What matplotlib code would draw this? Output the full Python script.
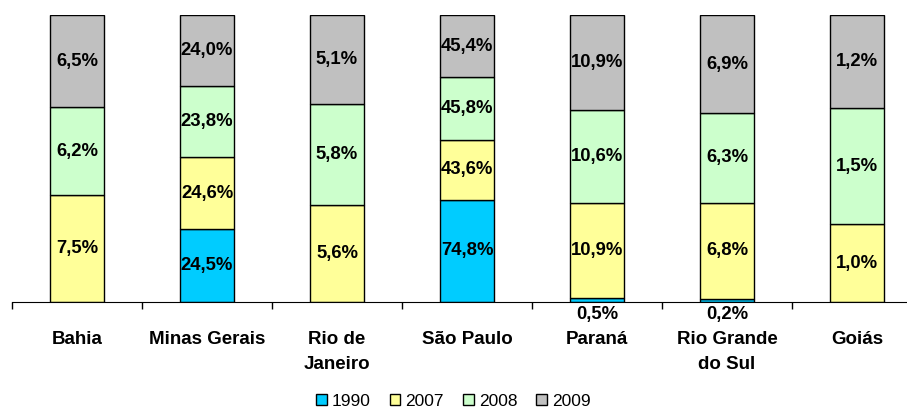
import numpy as np
import matplotlib.pyplot as plt
from matplotlib.transforms import blended_transform_factory

plt.rcParams['font.family'] = ['Liberation Sans', 'DejaVu Sans']

# share of each state by year (%), bars stacked to 100% per state
states = ['Bahia', 'Minas Gerais', 'Rio de\nJaneiro', 'São Paulo', 'Paraná', 'Rio Grande\ndo Sul', 'Goiás']
years = ['1990', '2007', '2008', '2009']
v1990 = [0.0, 24.5, 0.0, 74.8, 0.5, 0.2, 0.0]
v2007 = [7.5, 24.6, 5.6, 43.6, 10.9, 6.8, 1.0]
v2008 = [6.2, 23.8, 5.8, 45.8, 10.6, 6.3, 1.5]
v2009 = [6.5, 24.0, 5.1, 45.4, 10.9, 6.9, 1.2]
colors = ['#00CCFF', '#FFFF99', '#CCFFCC', '#C0C0C0']

vals = np.array([v1990, v2007, v2008, v2009])
frac = vals / vals.sum(axis=0)

fig = plt.figure(figsize=(9.07, 4.11), dpi=100)
ax = fig.add_axes([12 / 907, 109 / 411, 910 / 907, 287 / 411])

x = np.arange(len(states))
bottom = np.zeros(len(states))
for i, yr in enumerate(years):
    ax.bar(x, frac[i], 0.41, bottom=bottom, color=colors[i], edgecolor='black',
           linewidth=1, label=yr)
    for j in range(len(states)):
        v = vals[i, j]
        if v == 0:
            continue
        lab = f'{v:.1f}%'.replace('.', ',')
        if frac[i, j] < 0.03:
            # tiny segments: label sits just under the axis
            ax.text(x[j], -0.042, lab, ha='center', va='center', fontsize=13.3,
                    fontweight='bold')
        else:
            ax.text(x[j], bottom[j] + frac[i, j] / 2, lab, ha='center', va='center',
                    fontsize=13.3, fontweight='bold')
    bottom += frac[i]

ax.set_xlim(-0.5, len(states) - 0.5)
ax.set_ylim(0, 1)
for s in ['top', 'right', 'left']:
    ax.spines[s].set_visible(False)
ax.set_yticks([])
ax.set_xticks(np.arange(len(states) + 1) - 0.5)
ax.set_xticklabels([])
ax.tick_params(axis='x', direction='out', length=5, width=1)

tr = blended_transform_factory(ax.transData, ax.transAxes)
for j, s in enumerate(states):
    ax.text(x[j], -0.1, s, transform=tr, ha='center', va='top', fontsize=13.5,
            fontweight='bold', linespacing=1.6)

fig.legend(loc='lower center', bbox_to_anchor=(0.5, -0.032), ncol=4, frameon=False,
           fontsize=12.5, handlelength=0.6, handleheight=0.6, handletextpad=0.3,
           columnspacing=1.1)

fig.savefig('out.png', dpi=100)
